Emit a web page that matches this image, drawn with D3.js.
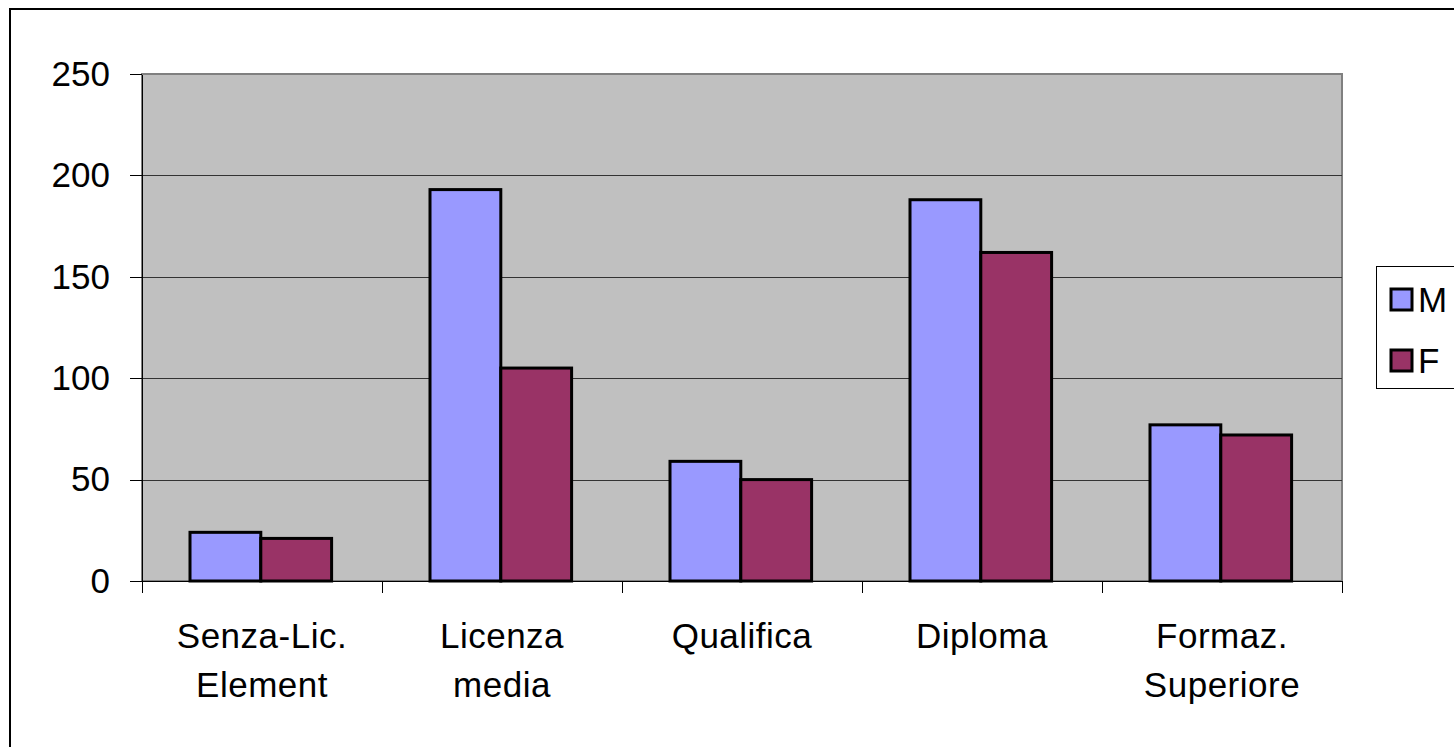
<html>
<style>
    body { margin: 0; background: #fff; }
    svg { display: block; }
    .axis text { font: 35px "Liberation Sans", Arial, sans-serif; fill: #000; }
    .axis path, .axis line { stroke: #000; stroke-width: 1; shape-rendering: crispEdges; }
    .grid line { stroke: #333; stroke-width: 1; shape-rendering: crispEdges; }
</style>
<body>
<svg width="1454" height="747"></svg>
<script src="https://d3js.org/d3.v7.min.js"></script>
<script>
    // dati
    var categories = [["Senza-Lic.", "Element"], ["Licenza", "media"], ["Qualifica"], ["Diploma"], ["Formaz.", "Superiore"]];
    var seriesNames = ["M", "F"];
    var valuesM = [24, 193, 59, 188, 77];
    var valuesF = [21, 105, 50, 162, 72];
    var yTicks = [0, 50, 100, 150, 200, 250];
    var colors = ["#9999FF", "#993366"];

    var svg = d3.select("svg");
    var pLeft = 142, pRight = 1342, pTop = 74, pBottom = 581;

    // bordo esterno del grafico
    svg.append("rect")
        .attr("x", 10).attr("y", 9)
        .attr("width", 1500).attr("height", 800)
        .attr("fill", "#fff").attr("stroke", "#000").attr("stroke-width", 2);

    var x0 = d3.scaleBand().domain(d3.range(categories.length)).range([pLeft, pRight]);
    var bw = x0.bandwidth();
    var x1 = d3.scaleBand().domain(seriesNames).range([bw * 0.2, bw * 0.79]);
    var y = d3.scaleLinear().domain([0, 250]).range([pBottom, pTop]);

    // area del grafico
    svg.append("rect")
        .attr("x", pLeft).attr("y", pTop)
        .attr("width", pRight - pLeft).attr("height", pBottom - pTop)
        .attr("fill", "#C0C0C0").attr("stroke", "#808080").attr("stroke-width", 2);

    svg.append("g").attr("class", "grid")
        .selectAll("line").data(yTicks.filter(d => d > 0 && d < 250)).enter()
        .append("line")
        .attr("x1", pLeft).attr("x2", pRight)
        .attr("y1", d => Math.round(y(d)) + 0.5).attr("y2", d => Math.round(y(d)) + 0.5);

    var rows = categories.map((c, i) => ({ i: i, vals: [valuesM[i], valuesF[i]] }));

    var grp = svg.append("g").selectAll("g").data(rows).enter()
        .append("g")
        .attr("transform", d => "translate(" + x0(d.i) + ",0)");

    grp.selectAll("rect").data(d => d.vals.map((v, k) => ({ k: k, v: v }))).enter()
        .append("rect")
        .attr("x", d => x1(seriesNames[d.k]))
        .attr("y", d => y(d.v))
        .attr("width", x1.bandwidth())
        .attr("height", d => y(0) - y(d.v))
        .attr("fill", d => colors[d.k])
        .attr("stroke", "#000").attr("stroke-width", 3);

    // asse y
    var yAxis = svg.append("g").attr("class", "axis")
        .attr("transform", "translate(" + pLeft + ",0)")
        .call(d3.axisLeft(y).tickValues(yTicks).tickSize(12).tickPadding(20).tickSizeOuter(0));
    yAxis.select(".domain").attr("stroke", "#555").attr("stroke-width", 2);

    // asse x
    var xAxis = svg.append("g").attr("class", "axis")
        .attr("transform", "translate(0," + pBottom + ")");
    xAxis.append("line").attr("x1", pLeft).attr("x2", pRight).attr("y1", 0.5).attr("y2", 0.5);
    xAxis.selectAll(".tk").data(d3.range(categories.length + 1)).enter()
        .append("line").attr("class", "tk")
        .attr("x1", d => Math.round(pLeft + d * bw) + 0.5).attr("x2", d => Math.round(pLeft + d * bw) + 0.5)
        .attr("y1", 0).attr("y2", 12);
    var lab = xAxis.selectAll(".lab").data(rows).enter()
        .append("text").attr("class", "lab")
        .attr("text-anchor", "middle")
        .attr("letter-spacing", "0.5px");
    lab.selectAll("tspan").data(d => categories[d.i].map(t => ({ t: t, i: d.i }))).enter()
        .append("tspan")
        .attr("x", d => x0(d.i) + bw / 2)
        .attr("y", (d, j) => 67 + j * 49)
        .text(d => d.t);

    // legenda
    var leg = svg.append("g").attr("transform", "translate(1376,266)");
    leg.append("rect").attr("x", 0.5).attr("y", 0.5).attr("width", 120).attr("height", 122)
        .attr("fill", "#fff").attr("stroke", "#000").attr("stroke-width", 1);
    seriesNames.forEach(function(s, k) {
        leg.append("rect")
            .attr("x", 15).attr("y", 23 + k * 61)
            .attr("width", 21).attr("height", 21)
            .attr("fill", colors[k]).attr("stroke", "#000").attr("stroke-width", 3);
        leg.append("text")
            .attr("x", 42).attr("y", 34 + k * 61).attr("dy", "0.35em")
            .style("font", "35px 'Liberation Sans', Arial, sans-serif")
            .text(s);
    });
</script>
</body>
</html>
